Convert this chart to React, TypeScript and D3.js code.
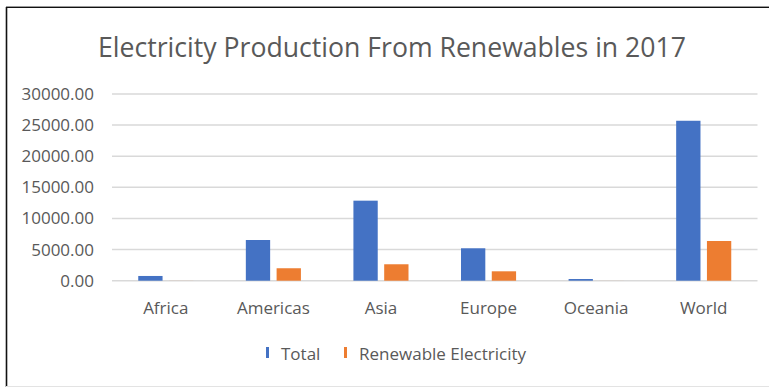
import React from "react";
import * as d3 from "d3";

const categories = ["Africa", "Americas", "Asia", "Europe", "Oceania", "World"];
const seriesNames = ["Total", "Renewable Electricity"];
const totalValues = [760, 6540, 12860, 5210, 270, 25700];
const renewableValues = [8, 2000, 2640, 1510, 6, 6380];
const yTicks = [0, 5000, 10000, 15000, 20000, 25000, 30000];
const title = "Electricity Production From Renewables in 2017";

const W = 769;
const H = 387;
const colors = ["#4472C4", "#ED7D31"];
const FONT = "'Open Sans', 'Noto Sans', sans-serif";

export default function App() {
  const left = 112;
  const right = 757.5;
  const top = 94;
  const bottom = 280.7;

  const x0 = d3.scaleBand<string>().domain(categories).range([left, right]).paddingInner(0.488).paddingOuter(0.244);
  const x1 = d3.scaleBand<string>().domain(seriesNames).range([0, x0.bandwidth()]).paddingInner(0.21).paddingOuter(0);
  const y = d3.scaleLinear().domain([0, 30000]).range([bottom, top]);
  const series = [totalValues, renewableValues];
  const fmt = d3.format(".2f");

  return (
    <div style={{ position: "absolute", left: 0, top: 0, width: W, height: H }}>
      <svg width={W} height={H} style={{ display: "block", background: "#fff" }}>
        <rect x={0} y={0} width={W} height={H} fill="#fff" />
        {/* border */}
        <line x1={6} y1={6.5} x2={W} y2={6.5} stroke="#9a9a9a" strokeWidth={1} />
        <line x1={6} y1={7.5} x2={W} y2={7.5} stroke="#111" strokeWidth={1.2} />
        <line x1={6.5} y1={7} x2={6.5} y2={H} stroke="#111" strokeWidth={1.6} />
        <line x1={6} y1={386.5} x2={W} y2={386.5} stroke="#e3e3e3" strokeWidth={1} />

        <text x={392} y={57} textAnchor="middle" fill="#595959" fontFamily={FONT} fontSize={28} textLength={588} lengthAdjust="spacingAndGlyphs">
          {title}
        </text>

        {yTicks.map((t) => (
          <g key={t}>
            <line x1={left} x2={right} y1={y(t)} y2={y(t)} stroke="#D9D9D9" strokeWidth={1.5} />
            <text x={94} y={y(t) + 6} textAnchor="end" fill="#595959" fontFamily={FONT} fontSize={17}>
              {fmt(t)}
            </text>
          </g>
        ))}

        {categories.map((c, i) => (
          <g key={c} transform={`translate(${x0(c)},0)`}>
            {seriesNames.map((s, j) => {
              const v = series[j][i];
              return (
                <rect
                  key={s}
                  x={x1(s)}
                  y={y(v)}
                  width={x1.bandwidth()}
                  height={bottom - y(v)}
                  fill={colors[j]}
                />
              );
            })}
          </g>
        ))}

        {categories.map((c) => (
          <text key={c} x={(x0(c) as number) + x0.bandwidth() / 2} y={313.5} textAnchor="middle" fill="#595959" fontFamily={FONT} fontSize={17}>
            {c}
          </text>
        ))}

        {/* legend */}
        <rect x={266} y={347} width={3} height={11} fill={colors[0]} />
        <text x={281} y={359.5} fill="#595959" fontFamily={FONT} fontSize={17}>{seriesNames[0]}</text>
        <rect x={344} y={347} width={3} height={11} fill={colors[1]} />
        <text x={359} y={359.5} fill="#595959" fontFamily={FONT} fontSize={17}>{seriesNames[1]}</text>
      </svg>
    </div>
  );
}
